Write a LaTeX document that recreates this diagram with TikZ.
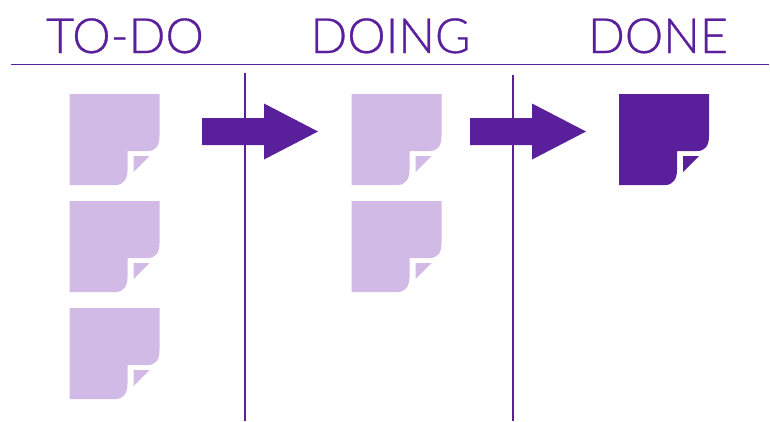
\documentclass[tikz,border=0pt]{standalone}
\usepackage{fontspec}
\setmainfont{Lato}[UprightFont=* Light,FakeBold=0.6,AutoFakeBold=0.6]
\newfontfamily\headfont{Lato Light}[FakeBold=0.6,RawFeature={embolden=0.6}]
\definecolor{deep}{HTML}{5A1F9B}
\definecolor{pale}{HTML}{D2BAE7}
\tikzset{
  x=1pt,y=-1pt,
  rule/.style={draw=deep,line width=1.4pt},
  heading/.style={text=deep,font=\headfont\fontsize{48.5}{49}\selectfont,inner sep=0pt,anchor=base},
  pics/sticky/.style={code={
    \fill[#1] (0,0) -- (90,0) -- (90,42) .. controls (90,52) and (86,57) .. (78,57)
      -- (58,57) -- (58,76) .. controls (58,85) and (54,91) .. (46,91) -- (0,91) -- cycle;
    \fill[#1] (64,62) -- (80,62) -- (64,78) -- cycle;
  }},
  pics/flow/.style={code={
    \fill[deep] (0,-13.5) -- (62,-13.5) -- (62,-28) -- (116,0) -- (62,28) -- (62,13.5) -- (0,13.5) -- cycle;
  }}
}
\begin{document}
\begin{tikzpicture}
\useasboundingbox (0,0) rectangle (770,421);
\node[heading] (todo) at (125,53) {TO-DO};
\node[heading] (doing) at (390.5,53) {DOING};
\node[heading] (done) at (658,53) {DONE};
\draw[rule] (11,64.5) -- (769,64.5);
\draw[rule] (245,73) -- (245,421);
\draw[rule] (513,75) -- (513,421);
\pic at (69.5,94) {sticky=pale};
\pic at (69.5,201) {sticky=pale};
\pic at (69.5,308) {sticky=pale};
\pic at (351.5,94) {sticky=pale};
\pic at (351.5,201) {sticky=pale};
\pic at (619,94) {sticky=deep};
\pic at (202,131.5) {flow};
\pic at (470,131.5) {flow};
\end{tikzpicture}
\end{document}
